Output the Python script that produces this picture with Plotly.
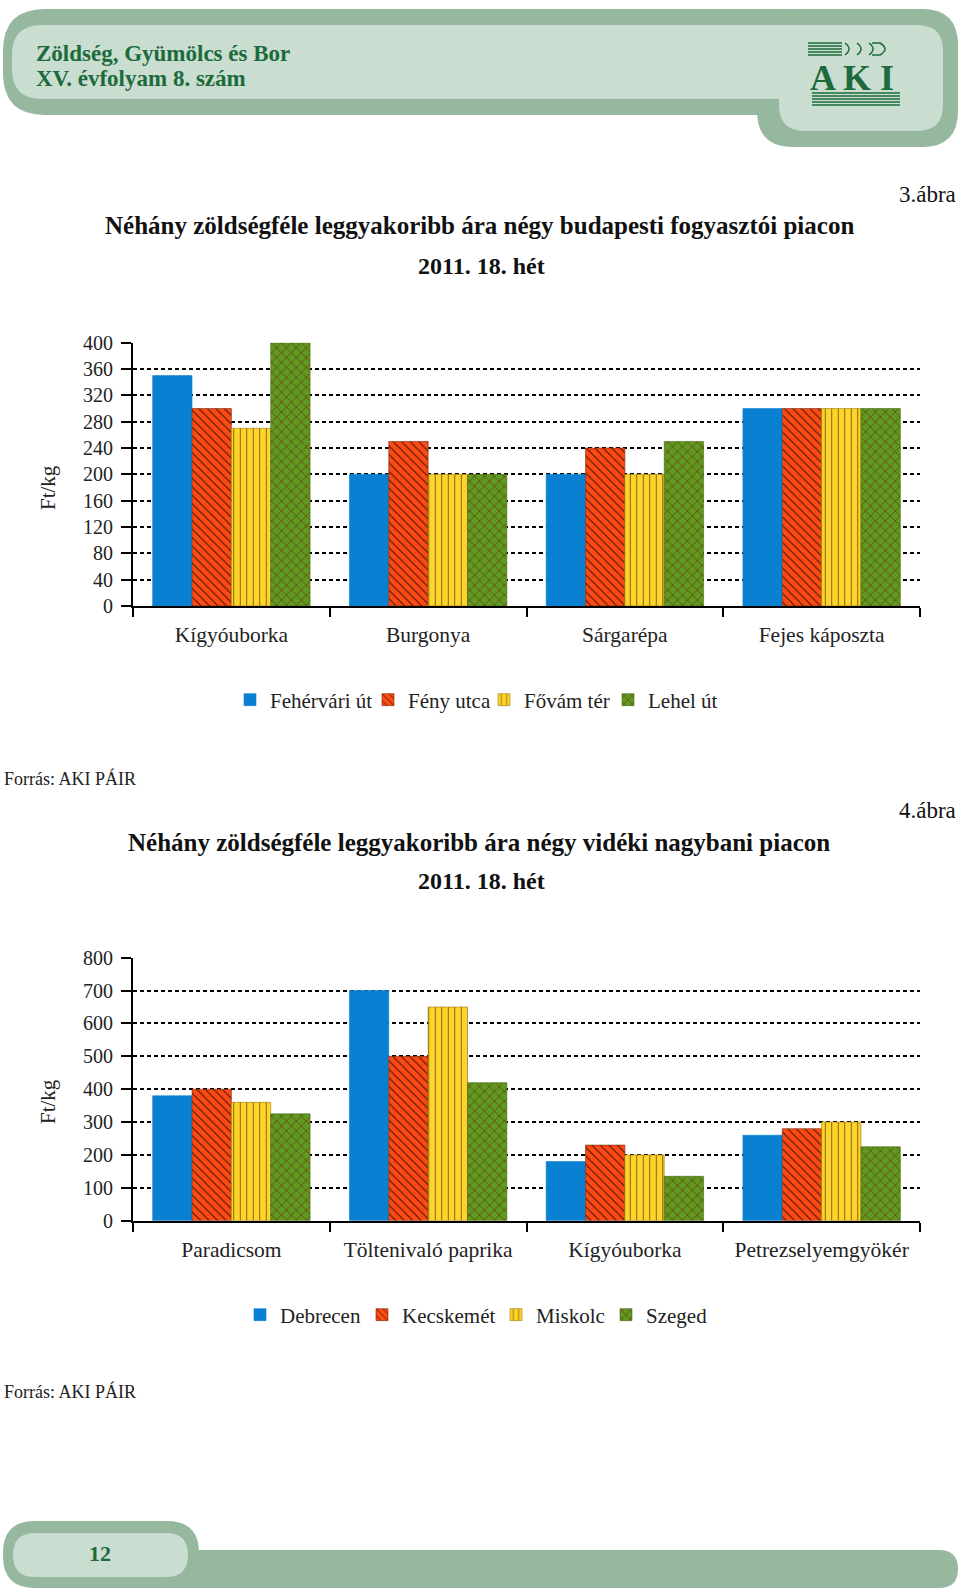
import plotly.graph_objects as go

W, H = 960, 1594

# ---------------- data ----------------
cats1 = ["Kígyóuborka", "Burgonya", "Sárgarépa", "Fejes káposzta"]
markets1 = ["Fehérvári út", "Fény utca", "Fővám tér", "Lehel út"]
feherv = [350, 200, 200, 300]
feny = [300, 250, 240, 300]
fovam = [270, 200, 200, 300]
lehel = [400, 200, 250, 300]
vals1 = [feherv, feny, fovam, lehel]

cats2 = ["Paradicsom", "Töltenivaló paprika", "Kígyóuborka", "Petrezselyemgyökér"]
markets2 = ["Debrecen", "Kecskemét", "Miskolc", "Szeged"]
debrecen = [380, 700, 180, 260]
kecskemet = [400, 500, 230, 280]
miskolc = [360, 650, 200, 300]
szeged = [325, 420, 135, 225]
vals2 = [debrecen, kecskemet, miskolc, szeged]

yticks1 = list(range(0, 401, 40))
yticks2 = list(range(0, 801, 100))

# ---------------- styles ----------------
colors = ["#0a80d2", "#fc4a12", "#fed42a", "#5e9a1e"]
patterns = [
    None,
    dict(shape="\\", fgcolor="#3a1208", bgcolor="#fc4a12", size=6, solidity=0.16, fillmode="replace"),
    dict(shape="|", fgcolor="#7a5a10", bgcolor="#fed42a", size=6.5, solidity=0.14, fillmode="replace"),
    dict(shape="x", fgcolor="#6a3a18", bgcolor="#5e9a1e", size=7, solidity=0.2, fillmode="replace"),
]
linecols = ["#0a80d2", "#7a2a10", "#9a7a10", "#4a6a18"]
SERIF = "Liberation Serif"
DKGREEN = "#1d6b3c"
SAGE = "#95b89f"
LIGHT = "#c9ddd0"

# legend box left edges (px) and vertical centres
leg_x1 = [244, 382, 498, 622]
leg_x2 = [254, 376, 510, 620]
leg_y1, leg_y2 = 700, 1315


def X(v):
    return v / W


def Y(v):
    return 1 - v / H


fig = go.Figure()
legfont = dict(family=SERIF, size=21, color="#222")
legends = {}

for chart, (cats, names, vals, lx, ly, xa, ya) in enumerate([
        (cats1, markets1, vals1, leg_x1, leg_y1, "x", "y"),
        (cats2, markets2, vals2, leg_x2, leg_y2, "x2", "y2")]):
    for i in range(4):
        mk = dict(color=colors[i], line=dict(width=0.6, color=linecols[i]))
        if patterns[i]:
            mk["pattern"] = patterns[i]
        n = chart * 4 + i + 1
        lname = "legend" if n == 1 else f"legend{n}"
        legends[lname] = dict(orientation="h", x=X(lx[i] - 14), xanchor="left",
                              y=Y(ly), yanchor="middle", font=legfont,
                              bgcolor="rgba(0,0,0,0)")
        fig.add_trace(go.Bar(x=cats, y=vals[i], name=names[i], marker=mk,
                             xaxis=xa, yaxis=ya, legend=lname))

numfont = dict(family=SERIF, size=20, color="#222")
catfont = dict(family=SERIF, size=21.5, color="#222")
xcommon = dict(type="category", showline=True, linecolor="black", linewidth=2,
               ticks="outside", tickson="boundaries", ticklen=9, tickwidth=2,
               tickcolor="black", tickfont=catfont, showgrid=False, zeroline=False,
               ticklabelstandoff=8, fixedrange=True, automargin=False)
ycommon = dict(showline=True, linecolor="black", linewidth=2, ticks="outside",
               ticklen=10, tickwidth=2, tickcolor="black", tickfont=numfont,
               showgrid=True, gridcolor="black", gridwidth=2, griddash="4px,3px",
               zeroline=False, ticklabelstandoff=4, fixedrange=True, automargin=False)

fig.update_layout(
    width=W, height=H,
    margin=dict(l=0, r=0, t=0, b=0, pad=0, autoexpand=False),
    paper_bgcolor="white", plot_bgcolor="white",
    barmode="group", bargap=0.2, bargroupgap=0,
    xaxis=dict(domain=[X(133), X(920)], anchor="y", **xcommon),
    yaxis=dict(domain=[Y(606), Y(342.7)], anchor="x", range=[0, 400],
               tickvals=yticks1, **ycommon),
    xaxis2=dict(domain=[X(133), X(920)], anchor="y2", **xcommon),
    yaxis2=dict(domain=[Y(1220.7), Y(957.7)], anchor="x2", range=[0, 800],
                tickvals=yticks2, **ycommon),
    showlegend=True,
    **legends,
)


def rrect(x0, y0, x1, y1, r):
    return (f"M{X(x0 + r)},{Y(y0)} L{X(x1 - r)},{Y(y0)} Q{X(x1)},{Y(y0)} {X(x1)},{Y(y0 + r)} "
            f"L{X(x1)},{Y(y1 - r)} Q{X(x1)},{Y(y1)} {X(x1 - r)},{Y(y1)} "
            f"L{X(x0 + r)},{Y(y1)} Q{X(x0)},{Y(y1)} {X(x0)},{Y(y1 - r)} "
            f"L{X(x0)},{Y(y0 + r)} Q{X(x0)},{Y(y0)} {X(x0 + r)},{Y(y0)} Z")


shapes = []


def blob(x0, y0, x1, y1, r, color):
    shapes.append(dict(type="path", xref="paper", yref="paper", path=rrect(x0, y0, x1, y1, r),
                       fillcolor=color, line=dict(width=0), layer="below"))


# header
blob(3, 9, 958, 115, 42, SAGE)
blob(757, 9, 958, 147, 36, SAGE)
blob(12, 25, 943, 99, 30, LIGHT)
blob(779, 25, 943, 131, 26, LIGHT)
# footer
blob(150, 1550, 958, 1588, 19, SAGE)
blob(3, 1521, 199, 1588, 32, SAGE)
blob(13, 1533, 188, 1577, 22, LIGHT)

# logo lines (wheat + book)
for yy in [43, 46, 49, 52, 55]:
    shapes.append(dict(type="line", xref="paper", yref="paper", x0=X(808), x1=X(842),
                       y0=Y(yy), y1=Y(yy), line=dict(color=DKGREEN, width=1.5)))
for k in range(3):
    cx = 845 + k * 12
    shapes.append(dict(type="path", xref="paper", yref="paper",
                       path=f"M{X(cx)},{Y(43)} Q{X(cx + 8)},{Y(49)} {X(cx)},{Y(55)}",
                       line=dict(color=DKGREEN, width=1.5)))
shapes.append(dict(type="path", xref="paper", yref="paper",
                   path=f"M{X(872)},{Y(43)} L{X(880)},{Y(43)} Q{X(890)},{Y(49)} {X(880)},{Y(55)} L{X(872)},{Y(55)}",
                   line=dict(color=DKGREEN, width=1.5)))
for yy in [93, 96, 99, 102, 105]:
    shapes.append(dict(type="line", xref="paper", yref="paper", x0=X(812), x1=X(900),
                       y0=Y(yy), y1=Y(yy), line=dict(color=DKGREEN, width=1.5)))
fig.update_layout(shapes=shapes)


def ann(text, x, y, size, color="#111", bold=False, xanchor="center", angle=0, family=SERIF):
    t = f"<b>{text}</b>" if bold else text
    fig.add_annotation(text=t, x=X(x), y=Y(y), xref="paper", yref="paper", showarrow=False,
                       xanchor=xanchor, yanchor="middle", textangle=angle,
                       font=dict(family=family, size=size, color=color))


ann("Zöldség, Gyümölcs és Bor", 34, 53, 23, DKGREEN, bold=True, xanchor="left")
ann("XV. évfolyam 8. szám", 34, 79, 23, DKGREEN, bold=True, xanchor="left")
ann("<b>A K I</b>", 852, 78, 36, DKGREEN)
ann("12", 100, 1553, 22, DKGREEN, bold=True)

ann("3.ábra", 958, 194, 23, xanchor="right")
ann("Néhány zöldségféle leggyakoribb ára négy budapesti fogyasztói piacon", 479, 226, 25, bold=True)
ann("2011. 18. hét", 481, 266, 24, bold=True)
ann("Ft/kg", 48, 488, 21, "#222", angle=-90)
ann("Forrás: AKI PÁIR", 2, 778, 18, "#222", xanchor="left")

ann("4.ábra", 958, 810, 23, xanchor="right")
ann("Néhány zöldségféle leggyakoribb ára négy vidéki nagybani piacon", 479, 842, 25, bold=True)
ann("2011. 18. hét", 481, 881, 24, bold=True)
ann("Ft/kg", 48, 1102, 21, "#222", angle=-90)
ann("Forrás: AKI PÁIR", 2, 1391, 18, "#222", xanchor="left")

fig.write_html("out.html", config={"displayModeBar": False},
               post_script="document.body.style.margin='0';document.body.style.overflow='hidden';")
